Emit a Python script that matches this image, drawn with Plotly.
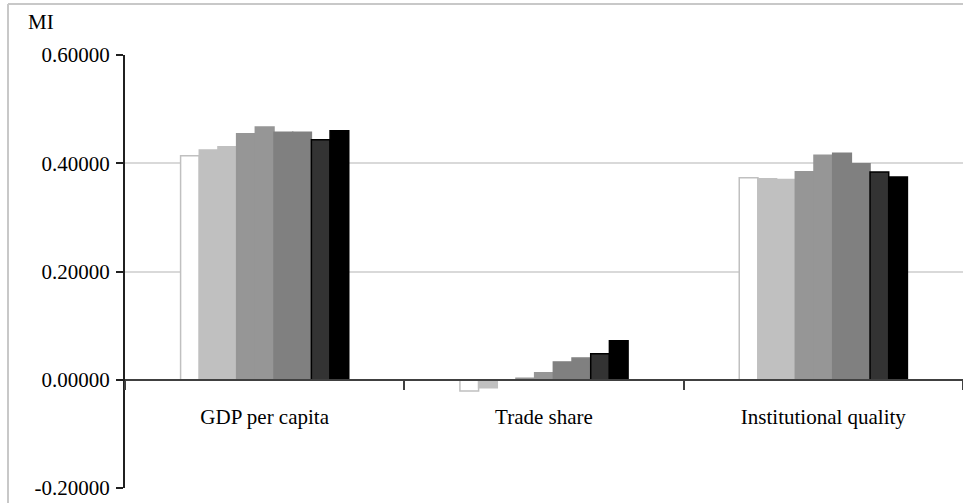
import plotly.graph_objects as go

categories = ["GDP per capita", "Trade share", "Institutional quality"]

# nine bars per category (left to right)
s1 = [0.4140, -0.0210, 0.3730]
s2 = [0.4244, -0.0150, 0.3715]
s3 = [0.4307, 0.0000, 0.3700]
s4 = [0.4547, 0.0030, 0.3845]
s5 = [0.4669, 0.0130, 0.4146]
s6 = [0.4571, 0.0330, 0.4183]
s7 = [0.4571, 0.0400, 0.3990]
s8 = [0.4436, 0.0480, 0.3838]
s9 = [0.4602, 0.0720, 0.3745]

series = [s1, s2, s3, s4, s5, s6, s7, s8, s9]
fills = ["#ffffff", "#c0c0c0", "#c0c0c0", "#969696", "#969696",
         "#808080", "#808080", "#333333", "#000000"]
edges = ["#c0c0c0", "#c0c0c0", "#c0c0c0", "#969696", "#969696",
         "#808080", "#808080", "#000000", "#000000"]

y_ticks = [-0.2, 0.0, 0.2, 0.4, 0.6]
y_labels = ["-0.20000", "0.00000", "0.20000", "0.40000", "0.60000"]

SERIF = "Liberation Serif, Times New Roman, serif"
FS = 21

fig = go.Figure()
for vals, fc, ec in zip(series, fills, edges):
    fig.add_trace(go.Bar(x=categories, y=vals, marker=dict(color=fc, line=dict(color=ec, width=1.5)),
                         showlegend=False))

fig.update_layout(
    width=963, height=503,
    margin=dict(l=125, r=0, t=55, b=15),
    paper_bgcolor="white", plot_bgcolor="white",
    barmode="group", bargap=0.398, bargroupgap=0,
    font=dict(family=SERIF, size=FS, color="black"),
    xaxis=dict(
        automargin=False,
        anchor="free", position=0.25,
        showline=True, linecolor="#404040", linewidth=2,
        showgrid=False, ticks="outside", tickson="boundaries",
        ticklen=9, tickwidth=2, tickcolor="#404040",
        ticklabelstandoff=18,
        tickfont=dict(family=SERIF, size=FS, color="black"),
        range=[-0.5, 2.5],
    ),
    yaxis=dict(
        automargin=False,
        range=[-0.2, 0.6], tickvals=y_ticks, ticktext=y_labels,
        showline=True, linecolor="#202020", linewidth=2,
        ticks="outside", ticklen=7, tickwidth=2, tickcolor="#202020",
        ticklabelstandoff=2,
        showgrid=True, gridcolor="#d9d9d9", gridwidth=2,
        zeroline=False,
        tickfont=dict(family=SERIF, size=FS, color="black"),
    ),
    shapes=[
        dict(type="line", xref="paper", yref="paper",
             x0=(8 - 125) / 838, x1=(8 - 125) / 838, y0=1 + (55 - 4) / 433, y1=-0.2,
             line=dict(color="#c8c8c8", width=2)),
        dict(type="line", xref="paper", yref="paper",
             x0=(8 - 125) / 838, x1=1.01, y0=1 + (55 - 4) / 433, y1=1 + (55 - 4) / 433,
             line=dict(color="#c8c8c8", width=2)),
    ],
    annotations=[
        dict(text="MI", xref="paper", yref="paper",
             x=(26 - 125) / 838, y=1 + (55 - 22) / 433,
             xanchor="left", yanchor="middle", showarrow=False,
             font=dict(family=SERIF, size=FS, color="black")),
    ],
)

fig.write_html(
    "out.html",
    config={"displayModeBar": False},
    post_script="document.body.style.margin='0px';document.body.style.overflow='hidden';",
)
